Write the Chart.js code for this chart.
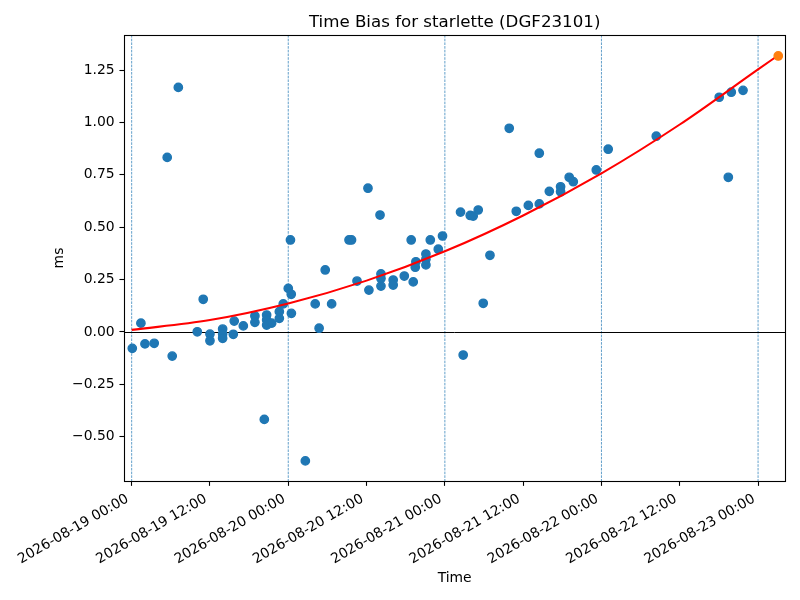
<!DOCTYPE html>
<html>
<head>
<meta charset="utf-8">
<script src="https://cdn.jsdelivr.net/npm/chart.js@4.4.1/dist/chart.umd.min.js"></script>
<style>
  html, body { margin: 0; padding: 0; background: #fff; }
  #wrap { width: 800px; height: 600px; }
</style>
</head>
<body>
<div id="wrap"><canvas id="c" width="800" height="600"></canvas></div>
<script>
// ---- Data (x in days since 2026-08-19 00:00, y in ms) ----
const obsDays = [
  0.004, 0.059, 0.085, 0.144, 0.227, 0.259, 0.298, 0.419, 0.457, 0.500,
  0.500, 0.581, 0.581, 0.581, 0.649, 0.655, 0.713, 0.787, 0.787, 0.847,
  0.862, 0.862, 0.862, 0.894, 0.943, 0.943, 0.968, 1.000, 1.019, 1.014,
  1.020, 1.109, 1.172, 1.197, 1.236, 1.277, 1.388, 1.404, 1.439, 1.509,
  1.515, 1.586, 1.592, 1.592, 1.592, 1.670, 1.670, 1.741, 1.785, 1.798,
  1.811, 1.815, 1.879, 1.879, 1.879, 1.907, 1.958, 1.985, 2.100, 2.117,
  2.162, 2.181, 2.213, 2.245, 2.288, 2.411, 2.456, 2.533, 2.603, 2.603,
  2.667, 2.739, 2.739, 2.794, 2.820, 2.967, 3.043, 3.350, 3.752, 3.810,
  3.829, 3.904
];
const obsMs = [
  -0.078, 0.042, -0.057, -0.054, 0.833, -0.115, 1.167, 0.001, 0.156, -0.010,
  -0.042, 0.014, -0.010, -0.030, -0.011, 0.052, 0.029, 0.076, 0.046, -0.417,
  0.081, 0.057, 0.033, 0.042, 0.065, 0.097, 0.134, 0.208, 0.180, 0.439,
  0.089, -0.615, 0.134, 0.018, 0.296, 0.134, 0.439, 0.439, 0.243, 0.686,
  0.200, 0.558, 0.277, 0.255, 0.219, 0.248, 0.224, 0.267, 0.439, 0.239,
  0.309, 0.335, 0.320, 0.347, 0.372, 0.439, 0.395, 0.458, 0.572, -0.110,
  0.556, 0.553, 0.582, 0.137, 0.366, 0.972, 0.576, 0.604, 0.853, 0.611,
  0.671, 0.693, 0.669, 0.738, 0.717, 0.773, 0.872, 0.934, 1.120, 0.738,
  1.144, 1.153
];
const fitDays = [0, 0.5, 1, 1.5, 2, 2.5, 3, 3.5, 4, 4.129];
const fitMs   = [0.010, 0.057, 0.136, 0.245, 0.385, 0.556, 0.757, 0.990, 1.253, 1.320];
const predDays = [4.129];
const predMs   = [1.317];

const xTickValues = [0, 0.5, 1, 1.5, 2, 2.5, 3, 3.5, 4];
const xTickLabels = [
  '2026-08-19 00:00', '2026-08-19 12:00', '2026-08-20 00:00', '2026-08-20 12:00',
  '2026-08-21 00:00', '2026-08-21 12:00', '2026-08-22 00:00', '2026-08-22 12:00',
  '2026-08-23 00:00'
];
const yTickValues = [-0.5, -0.25, 0, 0.25, 0.5, 0.75, 1.0, 1.25];
const dayLines = [0, 1, 2, 3, 4];
const xRange = [-0.047, 4.172];
const yRange = [-0.711, 1.417];

// ---- Chart ----
const FONT = 'DejaVu Sans';
Chart.defaults.font.family = FONT;
Chart.defaults.font.size = 13.9;
Chart.defaults.color = '#000';

const zip = (xs, ys) => xs.map((v, i) => ({ x: v, y: ys[i] }));

const refLines = {
  id: 'refLines',
  beforeDatasetsDraw(chart) {
    const { ctx, chartArea: a, scales: { x, y } } = chart;
    ctx.save();
    ctx.beginPath();
    ctx.rect(a.left, a.top, a.right - a.left, a.bottom - a.top);
    ctx.clip();
    ctx.strokeStyle = '#1f77b4';
    ctx.lineWidth = 0.7;
    ctx.setLineDash([2.6, 1.1]);
    dayLines.forEach(d => {
      const px = x.getPixelForValue(d);
      ctx.beginPath();
      ctx.moveTo(px, a.top);
      ctx.lineTo(px, a.bottom);
      ctx.stroke();
    });
    ctx.setLineDash([]);
    ctx.strokeStyle = '#000';
    ctx.lineWidth = 1;
    const py = Math.round(y.getPixelForValue(0)) + 0.5;
    ctx.beginPath();
    ctx.moveTo(a.left, py);
    ctx.lineTo(a.right, py);
    ctx.stroke();
    ctx.restore();
  },
  afterDatasetsDraw(chart) {
    const { ctx, chartArea: a } = chart;
    ctx.save();
    ctx.strokeStyle = '#000';
    ctx.lineWidth = 1.1;
    const l = Math.round(a.left) + 0.5, t = Math.round(a.top) + 0.5;
    const r = Math.round(a.right) + 0.5, b = Math.round(a.bottom) + 0.5;
    ctx.strokeRect(l, t, r - l, b - t);
    ctx.restore();
  }
};

new Chart(document.getElementById('c'), {
  type: 'scatter',
  data: {
    datasets: [
      {
        label: 'prediction',
        data: zip(predDays, predMs),
        backgroundColor: '#ff7f0e',
        borderColor: '#ff7f0e',
        pointRadius: 4.17,
        borderWidth: 1.39,
        order: 0
      },
      {
        label: 'fit',
        type: 'line',
        data: zip(fitDays, fitMs),
        borderColor: '#ff0000',
        borderWidth: 2.08,
        pointRadius: 0,
        fill: false,
        cubicInterpolationMode: 'monotone',
        order: 1
      },
      {
        label: 'bias',
        data: zip(obsDays, obsMs),
        backgroundColor: '#1f77b4',
        borderColor: '#1f77b4',
        pointRadius: 4.17,
        borderWidth: 1.39,
        order: 2
      }
    ]
  },
  options: {
    responsive: false,
    animation: false,
    devicePixelRatio: 1,
    layout: { padding: { left: 0, right: 15, top: 0, bottom: 0 } },
    plugins: {
      legend: { display: false },
      tooltip: { enabled: false },
      title: {
        display: true,
        text: 'Time Bias for starlette (DGF23101)',
        fullSize: false,
        color: '#000',
        font: { family: FONT, size: 16.67, weight: 'normal', lineHeight: 1.2 },
        padding: { top: 12.5, bottom: 2.5 }
      }
    },
    scales: {
      x: {
        type: 'linear',
        min: xRange[0],
        max: xRange[1],
        afterBuildTicks: s => { s.ticks = xTickValues.map(v => ({ value: v })); },
        afterFit: s => { s.height = 119; },
        ticks: {
          autoSkip: false,
          minRotation: 30,
          maxRotation: 30,
          padding: 4.86,
          labelOffset: -4,
          color: '#000',
          callback: (v) => {
            const i = xTickValues.indexOf(v);
            return i >= 0 ? xTickLabels[i] : '';
          }
        },
        grid: {
          display: true,
          drawOnChartArea: false,
          drawTicks: true,
          tickLength: 4.86,
          tickColor: '#000',
          tickWidth: 1.1
        },
        border: { display: false },
        title: {
          display: true,
          text: 'Time',
          color: '#000',
          font: { family: FONT, size: 13.9, lineHeight: 1.2 },
          padding: { top: 0, bottom: 13.6 }
        }
      },
      y: {
        type: 'linear',
        min: yRange[0],
        max: yRange[1],
        afterBuildTicks: s => { s.ticks = yTickValues.map(v => ({ value: v })); },
        afterFit: s => { s.width = 124.3; },
        ticks: {
          padding: 4.86,
          color: '#000',
          callback: (v) => {
            const t = Math.abs(v).toFixed(2);
            return v < 0 ? '\u2212' + t : t;
          }
        },
        grid: {
          display: true,
          drawOnChartArea: false,
          drawTicks: true,
          tickLength: 4.86,
          tickColor: '#000',
          tickWidth: 1.1
        },
        border: { display: false },
        title: {
          display: true,
          text: 'ms',
          color: '#000',
          font: { family: FONT, size: 13.9, lineHeight: 1.2 },
          padding: { top: 51, bottom: 0 }
        }
      }
    }
  },
  plugins: [refLines]
});
</script>
</body>
</html>
